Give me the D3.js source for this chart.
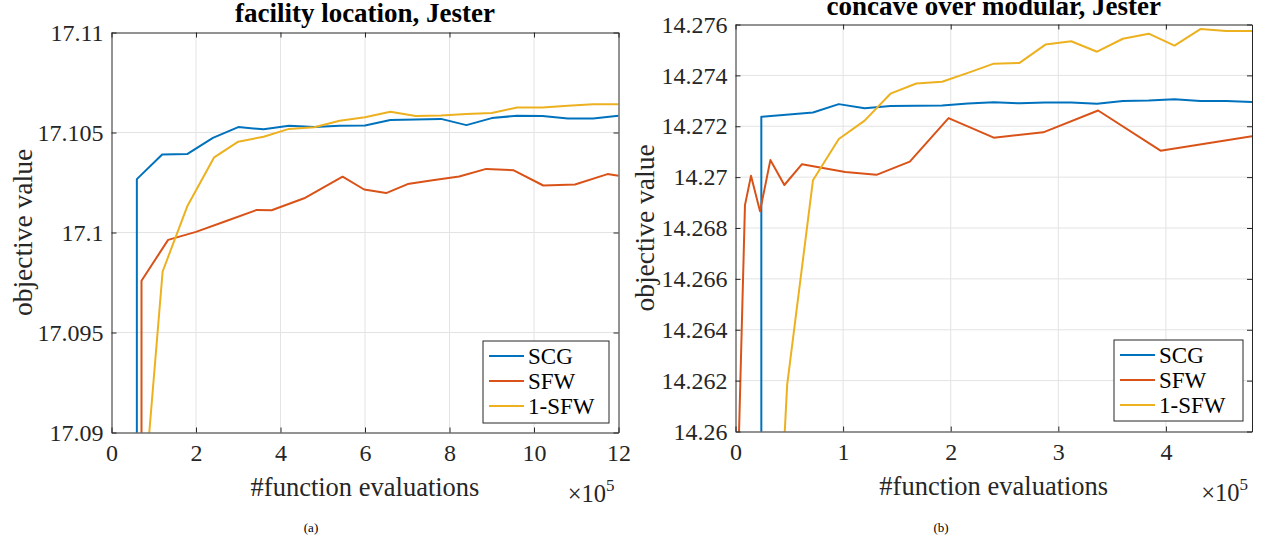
<!DOCTYPE html>
<html>
<head>
<meta charset="utf-8">
<script src="https://cdn.jsdelivr.net/npm/d3@7"></script>
<style>
  body { margin: 0; background: #fff; }
  svg { display: block; font-family: 'Liberation Serif', 'Times New Roman', serif; }
</style>
</head>
<body>
<svg id="fig" width="1266" height="544"></svg>
<script>
// series names and colours (MATLAB default order)
const seriesNames = ['SCG', 'SFW', '1-SFW']
const seriesColors = ['#0072BD', '#D95319', '#EDB120']

// (a) facility location, Jester  -- x in units of 1e5 evaluations
const scgFlX = [0.6, 0.6, 1.2, 1.8, 2.4, 3.0, 3.6, 4.2, 4.8, 5.4, 6.0, 6.6, 7.2, 7.8, 8.4, 9.0, 9.6, 10.2, 10.8, 11.4, 12.0]
const scgFlY = [17.08, 17.10267, 17.1039, 17.10393, 17.10473, 17.10527, 17.10516, 17.10534, 17.10527, 17.10534, 17.10535, 17.10563, 17.10565, 17.10568, 17.10537, 17.10572, 17.10584, 17.10582, 17.1057, 17.1057, 17.10584]
const sfwFlX = [0.71, 0.71, 1.34, 2.0, 2.7, 3.44, 3.79, 4.56, 5.47, 5.98, 6.5, 7.01, 7.6, 8.23, 8.87, 9.52, 10.22, 10.97, 11.74, 12.0]
const sfwFlY = [17.08, 17.09759, 17.09963, 17.10003, 17.10056, 17.10113, 17.10111, 17.10171, 17.10279, 17.10215, 17.10197, 17.10242, 17.10261, 17.1028, 17.10318, 17.10311, 17.10235, 17.1024, 17.10292, 17.10284]
const sfw1FlX = [0.6, 1.21, 1.8, 2.43, 3.0, 3.6, 4.2, 4.8, 5.4, 6.0, 6.6, 7.2, 7.8, 8.4, 9.0, 9.6, 10.2, 10.8, 11.4, 12.0]
const sfw1FlY = [17.0825, 17.09805, 17.10134, 17.10376, 17.10454, 17.10479, 17.10518, 17.10526, 17.10559, 17.10576, 17.10604, 17.10582, 17.10585, 17.10592, 17.10598, 17.10625, 17.10625, 17.10634, 17.10641, 17.10641]
const xTicksFl = [0, 2, 4, 6, 8, 10, 12]
const yTicksFl = [17.09, 17.095, 17.1, 17.105, 17.11]

// (b) concave over modular, Jester
const scgCmX = [0.24, 0.24, 0.72, 0.96, 1.2, 1.44, 1.68, 1.92, 2.16, 2.4, 2.64, 2.88, 3.12, 3.36, 3.6, 3.84, 4.08, 4.32, 4.56, 4.8]
const scgCmY = [14.25, 14.27237, 14.27254, 14.27287, 14.27271, 14.2728, 14.27281, 14.27282, 14.27289, 14.27294, 14.2729, 14.27293, 14.27293, 14.27288, 14.27299, 14.27301, 14.27306, 14.27299, 14.27299, 14.27295]
const sfwCmX = [0.02, 0.088, 0.144, 0.228, 0.324, 0.454, 0.618, 0.76, 1.02, 1.31, 1.62, 1.98, 2.4, 2.86, 3.37, 3.95, 4.8]
const sfwCmY = [14.2579, 14.2689, 14.27005, 14.26866, 14.27067, 14.26969, 14.27051, 14.2704, 14.2702, 14.27009, 14.27061, 14.27232, 14.27155, 14.27176, 14.27262, 14.27104, 14.27161]
const sfw1CmX = [0.24, 0.48, 0.72, 0.96, 1.2, 1.44, 1.68, 1.92, 2.16, 2.4, 2.64, 2.88, 3.12, 3.36, 3.6, 3.84, 4.08, 4.32, 4.56, 4.8]
const sfw1CmY = [14.242, 14.26183, 14.26988, 14.2715, 14.27222, 14.27328, 14.27368, 14.27375, 14.2741, 14.27446, 14.27449, 14.27521, 14.27534, 14.27493, 14.27544, 14.27564, 14.27517, 14.27582, 14.27574, 14.27574]
const xTicksCm = [0, 1, 2, 3, 4]
const yTicksCm = [14.26, 14.262, 14.264, 14.266, 14.268, 14.27, 14.272, 14.274, 14.276]

const svg = d3.select('#fig')
svg.append('rect').attr('width', 1266).attr('height', 544).attr('fill', '#fff')

drawPanel(svg, {
  id: 'a',
  box: { left: 111.5, top: 32.5, right: 618.5, bottom: 432.5 },
  xDomain: [0, 12],
  yDomain: [17.09, 17.11],
  xTicks: xTicksFl,
  yTicks: yTicksFl,
  title: 'facility location, Jester',
  titleY: 22,
  yLabelX: 22,
  legend: { x: 483, y: 341, w: 126, h: 82 },
  caption: '(a)',
  captionX: 311,
  series: [[scgFlX, scgFlY], [sfwFlX, sfwFlY], [sfw1FlX, sfw1FlY]]
})

drawPanel(svg, {
  id: 'b',
  box: { left: 735.5, top: 24.5, right: 1252, bottom: 431.5 },
  xDomain: [0, 4.8],
  yDomain: [14.26, 14.276],
  xTicks: xTicksCm,
  yTicks: yTicksCm,
  title: 'concave over modular, Jester',
  titleY: 14.5,
  yLabelX: 644,
  legend: { x: 1114, y: 340, w: 129, h: 81 },
  caption: '(b)',
  captionX: 941,
  series: [[scgCmX, scgCmY], [sfwCmX, sfwCmY], [sfw1CmX, sfw1CmY]]
})

function drawPanel (root, o) {
  let b = o.box
  let x = d3.scaleLinear().domain(o.xDomain).range([b.left, b.right])
  let y = d3.scaleLinear().domain(o.yDomain).range([b.bottom, b.top])
  let g = root.append('g').attr('class', 'panel panel-' + o.id)

  // grid
  let grid = g.append('g').attr('class', 'grid')
  grid.selectAll('line.gx').data(o.xTicks.filter(function (t) { return t > o.xDomain[0] && t < o.xDomain[1] }))
    .enter().append('line')
      .attr('x1', function (d) { return x(d) }).attr('x2', function (d) { return x(d) })
      .attr('y1', b.top).attr('y2', b.bottom)
      .attr('stroke', '#e3e3e3').attr('stroke-width', 1)
  grid.selectAll('line.gy').data(o.yTicks.filter(function (t) { return t > o.yDomain[0] && t < o.yDomain[1] }))
    .enter().append('line')
      .attr('y1', function (d) { return y(d) }).attr('y2', function (d) { return y(d) })
      .attr('x1', b.left).attr('x2', b.right)
      .attr('stroke', '#e3e3e3').attr('stroke-width', 1)

  // data lines
  let clipId = 'clip-' + o.id
  g.append('clipPath').attr('id', clipId)
    .append('rect')
      .attr('x', b.left).attr('y', b.top)
      .attr('width', b.right - b.left).attr('height', b.bottom - b.top)
  let line = d3.line().x(function (d) { return x(d[0]) }).y(function (d) { return y(d[1]) })
  g.append('g').attr('clip-path', 'url(#' + clipId + ')')
    .selectAll('path').data(o.series)
    .enter().append('path')
      .attr('d', function (s) { return line(d3.zip(s[0], s[1])) })
      .attr('fill', 'none')
      .attr('stroke', function (s, i) { return seriesColors[i] })
      .attr('stroke-width', 2)
      .attr('stroke-linejoin', 'round')

  // axes, MATLAB style: ticks inside on all four sides
  let fmt = function (d) { return String(d) }
  let axes = g.append('g').attr('class', 'axes')
  axes.append('g').attr('transform', 'translate(0,' + b.bottom + ')')
    .call(d3.axisBottom(x).tickValues(o.xTicks).tickFormat(fmt).tickSizeInner(-5).tickSizeOuter(0).tickPadding(11))
  axes.append('g').attr('transform', 'translate(0,' + b.top + ')')
    .call(d3.axisTop(x).tickValues(o.xTicks).tickFormat('').tickSizeInner(-5).tickSizeOuter(0))
  axes.append('g').attr('transform', 'translate(' + b.left + ',0)')
    .call(d3.axisLeft(y).tickValues(o.yTicks).tickFormat(fmt).tickSizeInner(-5).tickSizeOuter(0).tickPadding(8))
  axes.append('g').attr('transform', 'translate(' + b.right + ',0)')
    .call(d3.axisRight(y).tickValues(o.yTicks).tickFormat('').tickSizeInner(-5).tickSizeOuter(0))
  axes.selectAll('.domain').attr('stroke', '#262626').attr('stroke-width', 1)
  axes.selectAll('.tick line').attr('stroke', '#262626')
  axes.selectAll('.tick text')
    .attr('fill', '#262626')
    .style('font-family', "'Liberation Serif', serif")
    .style('font-size', '24px')

  // labels
  let cx = (b.left + b.right) / 2
  g.append('text')
    .attr('x', cx).attr('y', o.titleY)
    .attr('text-anchor', 'middle')
    .style('font-weight', 'bold').style('font-size', '27px')
    .attr('fill', '#000')
    .text(o.title)
  g.append('text')
    .attr('x', cx).attr('y', b.bottom + 63)
    .attr('text-anchor', 'middle')
    .style('font-size', '26.5px').attr('fill', '#262626')
    .text('#function evaluations')
  g.append('text')
    .attr('transform', 'translate(' + o.yLabelX + ',' + ((b.top + b.bottom) / 2) + ') rotate(-90)')
    .attr('text-anchor', 'middle')
    .attr('dy', '0.35em')
    .style('font-size', '27.5px').attr('fill', '#262626')
    .text('objective value')
  let mult = g.append('text')
    .attr('x', b.right - 4).attr('y', b.bottom + 69)
    .attr('text-anchor', 'end')
    .style('font-size', '24.5px').attr('fill', '#262626')
  mult.append('tspan').text('\u00d710')
  mult.append('tspan').attr('dy', -11).style('font-size', '17px').text('5')

  // legend
  let lg = o.legend
  let leg = g.append('g').attr('class', 'legend').attr('transform', 'translate(' + lg.x + ',' + lg.y + ')')
  leg.append('rect')
    .attr('width', lg.w).attr('height', lg.h)
    .attr('fill', '#fff').attr('stroke', '#262626').attr('stroke-width', 1)
  let items = leg.selectAll('g.item').data(seriesNames)
    .enter().append('g')
      .attr('class', 'item')
      .attr('transform', function (d, i) { return 'translate(0,' + (15 + i * 25) + ')' })
  items.append('line')
    .attr('x1', 6).attr('x2', 41).attr('y1', 0).attr('y2', 0)
    .attr('stroke', function (d, i) { return seriesColors[i] }).attr('stroke-width', 2)
  items.append('text')
    .attr('x', 45).attr('dy', '0.35em')
    .style('font-size', '23px').attr('fill', '#000')
    .text(function (d) { return d })

  // subfigure caption
  g.append('text')
    .attr('x', o.captionX).attr('y', 532)
    .attr('text-anchor', 'middle')
    .style('font-size', '13px').attr('fill', '#000')
    .text(o.caption)
}
</script>
</body>
</html>
